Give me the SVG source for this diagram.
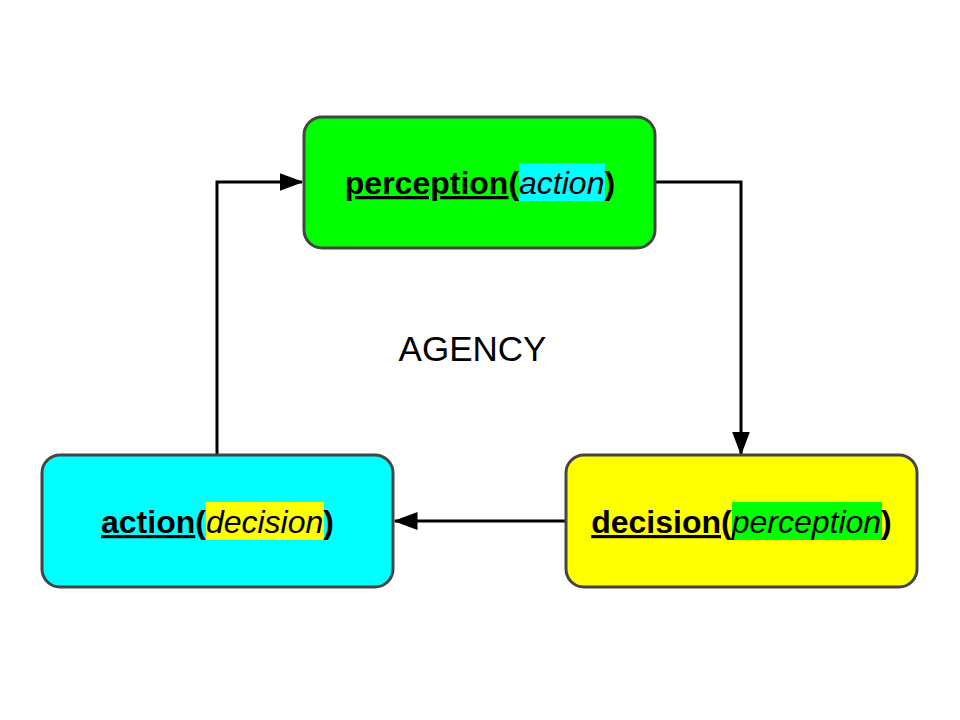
<svg xmlns="http://www.w3.org/2000/svg" width="960" height="720" viewBox="0 0 960 720">
<style>
.box{stroke:#444444;stroke-width:3}
.lbl{font-family:"Liberation Sans",Arial,sans-serif;font-size:32px;fill:#000}
.b{font-weight:bold;text-decoration:underline}
.i{font-style:italic}
.conn{fill:none;stroke:#000;stroke-width:3}
</style>
<defs>
<marker id="arr" markerWidth="8" markerHeight="6" refX="7.5" refY="3" orient="auto" markerUnits="strokeWidth">
<path d="M0,0 L8,3 L0,6 Z" fill="#000"/>
</marker>
</defs>
<rect width="960" height="720" fill="#fff"/>
<g id="connectors">
<path class="conn" d="M655,182 H741 V454" marker-end="url(#arr)"/>
<path class="conn" d="M566,521 H395" marker-end="url(#arr)"/>
<path class="conn" d="M217,455 V182 H302" marker-end="url(#arr)"/>
</g>
<g id="perception">
<rect class="box" x="304" y="117" width="351" height="131" rx="18" fill="#00ff00"/>
<rect x="519" y="163" width="86" height="38" fill="#00ffff"/>
<text class="lbl" x="344.8" y="194"><tspan class="b">perception</tspan><tspan font-weight="bold">(</tspan><tspan class="i">action</tspan><tspan font-weight="bold">)</tspan></text>
</g>
<g id="action">
<rect class="box" x="42" y="455" width="351" height="132" rx="18" fill="#00ffff"/>
<rect x="206" y="502" width="118" height="38" fill="#ffff00"/>
<text class="lbl" x="101" y="533"><tspan class="b">action</tspan><tspan font-weight="bold">(</tspan><tspan class="i">decision</tspan><tspan font-weight="bold">)</tspan></text>
</g>
<g id="decision">
<rect class="box" x="566" y="455" width="351" height="132" rx="18" fill="#ffff00"/>
<rect x="732" y="502" width="150" height="38" fill="#00ff00"/>
<text class="lbl" x="591.2" y="533"><tspan class="b">decision</tspan><tspan font-weight="bold">(</tspan><tspan class="i">perception</tspan><tspan font-weight="bold">)</tspan></text>
</g>
<g id="agency">
<text x="472.5" y="361" text-anchor="middle" font-family="Liberation Sans,Arial,sans-serif" font-size="35" fill="#000">AGENCY</text>
</g>
</svg>
